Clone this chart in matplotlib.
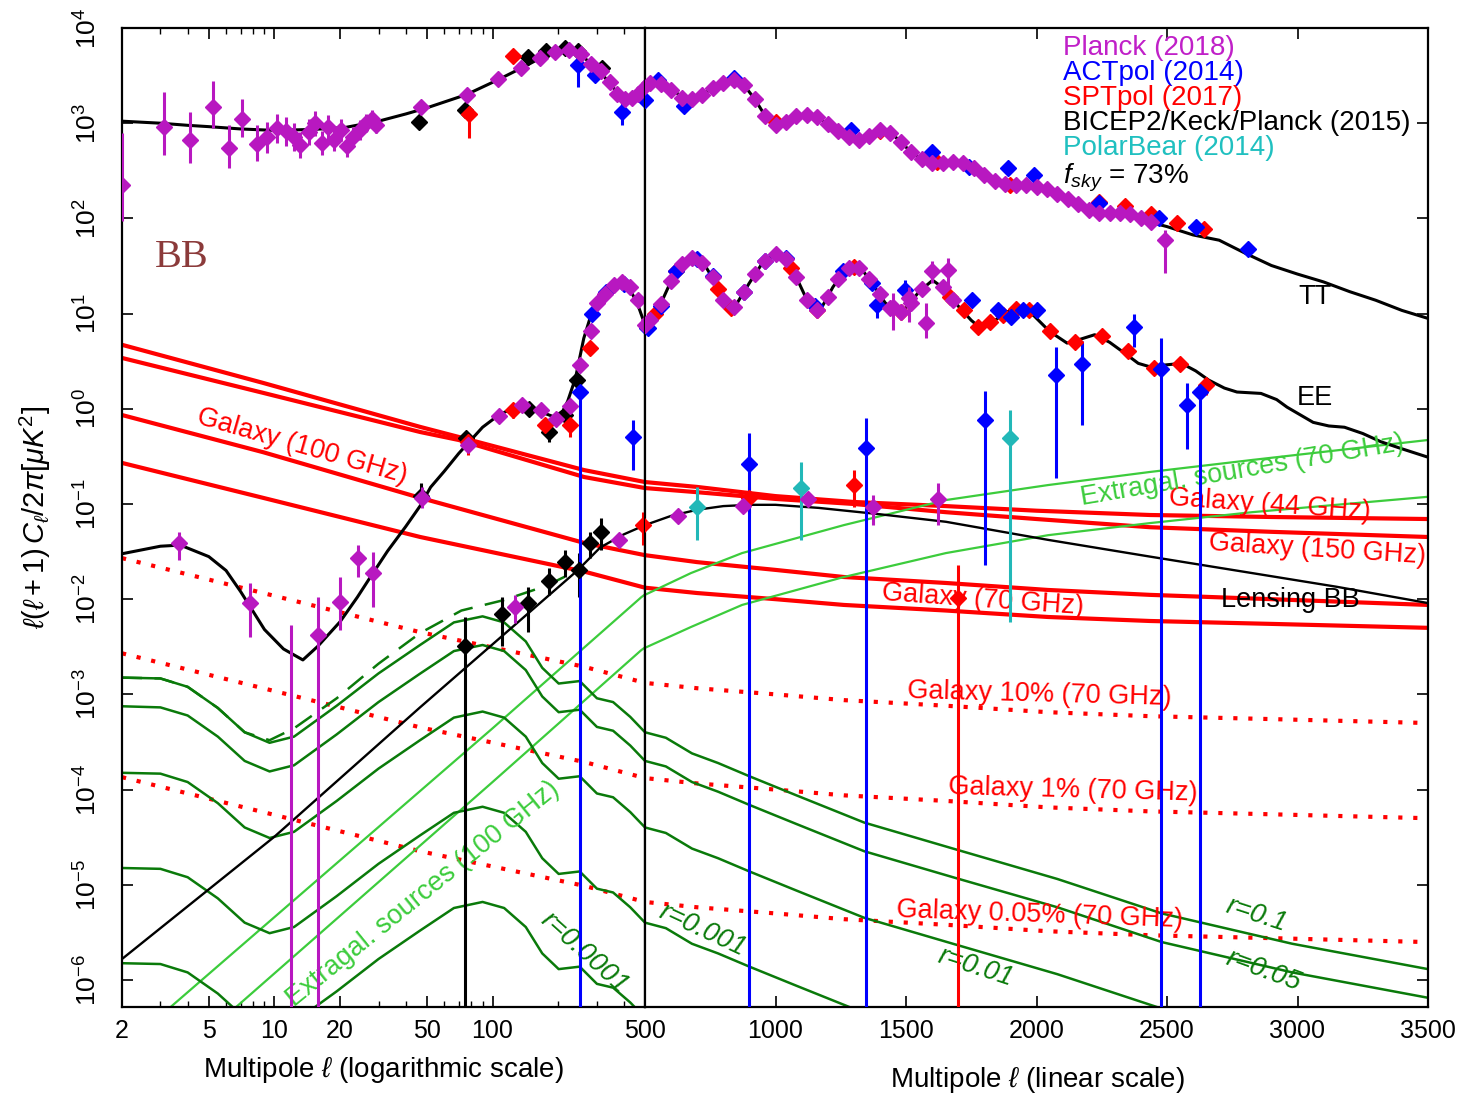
import numpy as np
import matplotlib
matplotlib.use("Agg")
import matplotlib.pyplot as plt
from matplotlib.ticker import FixedLocator, NullFormatter

plt.rcParams['font.family'] = ['Liberation Sans', 'DejaVu Sans']
plt.rcParams['mathtext.fontset'] = 'custom'
plt.rcParams['mathtext.rm'] = 'Liberation Sans'
plt.rcParams['mathtext.it'] = 'Liberation Sans:italic'
plt.rcParams['mathtext.bf'] = 'Liberation Sans:bold'

# ---------------- theory curves ----------------
tt_ell = [2, 3, 4, 5, 7, 10, 15, 21, 30, 40, 50, 76, 106, 141, 176, 200, 215, 235, 260, 290,
          314, 350, 392, 420, 450, 480, 500, 530, 560, 600, 665, 700, 750, 800, 845, 880, 920, 960,
          990, 1030, 1080, 1120, 1160, 1200, 1250, 1323, 1370, 1412, 1450, 1500, 1550, 1600, 1650,
          1700, 1750, 1800, 1850, 1900, 1950, 2000, 2050, 2100, 2150, 2200, 2250, 2300, 2350,
          2400, 2450, 2500, 2600, 2700, 2800, 2900, 3000, 3100, 3200, 3300, 3400, 3500]
tt_val = [1050, 1000, 950, 920, 870, 840, 860, 900, 1050, 1250, 1450, 2000, 2860, 3970, 5200, 5750,
          5850, 5700, 5000, 4000, 3400, 2500, 1850, 1800, 1950, 2200, 2450, 2700, 2650, 2250, 1750,
          1850, 2250, 2650, 2850, 2500, 1800, 1200, 955, 1020, 1180, 1220, 1150, 980, 790, 665, 760,
          850, 760, 560, 430, 380, 380, 395, 350, 286, 243, 224, 224, 214, 200, 170, 145, 123, 113,
          113, 113, 100, 89, 82, 67, 59, 43, 32, 26, 21.5, 17, 13.8, 10.8, 8.9]

ee_ell = [2, 3, 3.7, 5, 6, 7, 9, 11, 13.5, 15.8, 17.6, 20, 24, 27.5, 33, 40, 46.5, 52, 60, 70,
          90, 106, 120, 134, 150, 168, 192, 210, 221, 240, 262, 280, 300, 340, 380, 420, 460,
          500, 550, 600, 650, 692, 730, 770, 800, 822, 850, 900, 950, 1003, 1040, 1080, 1120,
          1148, 1180, 1220, 1260, 1299, 1340, 1380, 1420, 1465, 1500, 1550, 1602, 1650, 1700,
          1750, 1784, 1830, 1880, 1935, 1990, 2050, 2117, 2170, 2223, 2280, 2340, 2390, 2435,
          2500, 2556, 2610, 2660, 2720, 2768, 2860, 2920, 2960, 3060, 3120, 3180, 3250, 3320,
          3400, 3500]
ee_val = [0.030, 0.036, 0.037, 0.028, 0.020, 0.012, 0.0048, 0.003, 0.0023, 0.0032, 0.0042, 0.0058,
          0.0105, 0.017, 0.032, 0.058, 0.095, 0.15, 0.22, 0.34, 0.64, 0.85, 0.98, 1.08, 1.05,
          0.92, 0.82, 0.95, 1.2, 2.1, 5.5, 9, 14, 19.5, 21, 19, 13, 7.6, 11, 22, 35, 38, 32, 21,
          14, 11.5, 12.5, 21, 34, 43, 37, 24, 14, 10.5, 12, 19, 27, 31, 27, 19, 13, 10.1, 11.5,
          17, 22.4, 18, 12, 8.5, 7.1, 8, 10.3, 11.5, 9.5, 6.5, 4.9, 5.4, 6.0, 5.0, 3.8, 3.0,
          2.76, 2.9, 3.0, 2.5, 2.0, 1.65, 1.5, 1.45, 1.25, 1.04, 0.72, 0.66, 0.64, 0.55, 0.45,
          0.38, 0.31]

lens_ell = [2, 10, 46.5, 245, 312, 400, 500, 600, 700, 800, 900, 1000, 1165, 1400, 1653, 2044,
            2435, 2826, 3150, 3500]
lens_val = [1.66e-6, 3.2e-5, 7.3e-4, 0.02, 0.035, 0.048, 0.060, 0.075, 0.087, 0.095, 0.098, 0.098,
            0.091, 0.078, 0.065, 0.042, 0.028, 0.0188, 0.0135, 0.0091]

# primordial (tensor) BB for the five r values
tensor_ell = [2, 3, 4, 5.5, 7.3, 9.5, 12.3, 19.3, 30, 46.5, 66.5, 90, 113, 142, 169, 201, 251, 301,
              357, 428, 500, 580, 680, 780, 900, 1080, 1340, 1680, 2080, 2480, 2980, 3500]
bb_r01 = [1.5e-3, 1.47e-3, 1.2e-3, 7.2e-4, 4.0e-4, 3.1e-4, 3.6e-4, 7.6e-4, 1.66e-3, 3.3e-3, 5.7e-3,
          6.6e-3, 5.7e-3, 3.6e-3, 1.9e-3, 1.3e-3, 1.38e-3, 9.1e-4, 8.3e-4, 5.8e-4, 4.0e-4, 3.5e-4,
          2.4e-4, 1.9e-4, 1.38e-4, 8.7e-5, 4.5e-5, 2.4e-5, 1.15e-5, 5.0e-6, 2.4e-6, 1.3e-6]
bb_r005 = [7.5e-4, 7.3e-4, 6.0e-4, 3.6e-4, 2.0e-4, 1.55e-4, 1.8e-4, 3.8e-4, 8.3e-4, 1.65e-3, 2.85e-3,
           3.3e-3, 2.85e-3, 1.8e-3, 9.5e-4, 6.5e-4, 6.9e-4, 4.55e-4, 4.15e-4, 2.9e-4, 2.0e-4,
           1.75e-4, 1.2e-4, 9.5e-5, 6.9e-5, 4.35e-5, 2.25e-5, 1.2e-5, 5.8e-6, 2.5e-6, 1.2e-6, 6.5e-7]
bb_r001 = [1.5e-4, 1.47e-4, 1.2e-4, 7.2e-5, 4.0e-5, 3.1e-5, 3.6e-5, 7.6e-5, 1.66e-4, 3.3e-4, 5.7e-4,
           6.6e-4, 5.7e-4, 3.6e-4, 1.9e-4, 1.3e-4, 1.38e-4, 9.1e-5, 8.3e-5, 5.8e-5, 4.0e-5, 3.5e-5,
           2.4e-5, 1.9e-5, 1.38e-5, 8.7e-6, 4.5e-6, 2.4e-6, 1.15e-6, 5.0e-7, 2.4e-7, 1.3e-7]
bb_r0001 = [1.5e-5, 1.47e-5, 1.2e-5, 7.2e-6, 4.0e-6, 3.1e-6, 3.6e-6, 7.6e-6, 1.66e-5, 3.3e-5, 5.7e-5,
            6.6e-5, 5.7e-5, 3.6e-5, 1.9e-5, 1.3e-5, 1.38e-5, 9.1e-6, 8.3e-6, 5.8e-6, 4.0e-6, 3.5e-6,
            2.4e-6, 1.9e-6, 1.38e-6, 8.7e-7, 4.5e-7, 2.4e-7, 1.15e-7, 5.0e-8, 2.4e-8, 1.3e-8]
bb_r00001 = [1.5e-6, 1.47e-6, 1.2e-6, 7.2e-7, 4.0e-7, 3.1e-7, 3.6e-7, 7.6e-7, 1.66e-6, 3.3e-6,
             5.7e-6, 6.6e-6, 5.7e-6, 3.6e-6, 1.9e-6, 1.3e-6, 1.38e-6, 9.1e-7, 8.3e-7, 5.8e-7,
             4.0e-7, 3.5e-7, 2.4e-7, 1.9e-7, 1.38e-7, 8.7e-8, 4.5e-8, 2.4e-8, 1.15e-8, 5.0e-9,
             2.4e-9, 1.3e-9]
# dashed: lensing + r=0.1
total_ell = [2, 3, 4, 5.5, 7.3, 9.5, 12.3, 19.3, 30, 46.5, 72, 113, 176, 245]
total_val = [1.5e-3, 1.47e-3, 1.2e-3, 7.2e-4, 4.0e-4, 3.3e-4, 4.4e-4, 9.1e-4, 2.1e-3, 4.4e-3, 7.6e-3,
             9.8e-3, 0.0138, 0.02]

# foregrounds
gal_hi_ell = [2, 8.87, 46.6, 70, 263, 500, 700, 1000, 1300, 1653, 2000, 2435, 2900, 3500]
gal44_val = [4.7, 1.87, 0.645, 0.506, 0.227, 0.170, 0.151, 0.121, 0.105, 0.095, 0.085, 0.0766, 0.073, 0.0695]
gal150_val = [3.42, 1.47, 0.57, 0.47, 0.192, 0.147, 0.133, 0.113, 0.1, 0.082, 0.0695, 0.057, 0.051, 0.045]
gal_lo_ell = [2, 8.87, 46.6, 263, 500, 700, 1000, 1262, 1653, 2044, 2435, 2900, 3500]
gal100_val = [0.86, 0.35, 0.116, 0.039, 0.029, 0.0245, 0.0203, 0.0171, 0.0148, 0.0125, 0.0111, 0.010, 0.0087]
gal70_val = [0.27, 0.116, 0.045, 0.0195, 0.0132, 0.0116, 0.0100, 0.0087, 0.0076, 0.0065, 0.0059, 0.0055, 0.005]
gal70_10pc = [0.027, 0.0116, 0.0045, 0.00195, 0.00132, 0.00116, 0.0010, 0.00087, 0.00076, 0.00065,
              0.00059, 0.00055, 0.0005]
gal70_1pc = [0.0027, 0.00116, 0.00045, 0.000195, 0.000132, 0.000116, 0.0001, 8.7e-5, 7.6e-5, 6.5e-5,
             5.9e-5, 5.5e-5, 5e-5]
gal70_005pc = [1.35e-4, 5.8e-5, 2.25e-5, 9.75e-6, 6.6e-6, 5.8e-6, 5.0e-6, 4.35e-6, 3.8e-6, 3.25e-6,
               2.95e-6, 2.75e-6, 2.5e-6]
exg70_ell = [3, 100, 481, 676, 872, 1262, 1653, 2044, 2435, 2826, 3500]
exg70_val = [4.2e-7, 4.4e-4, 0.0105, 0.0188, 0.0305, 0.060, 0.110, 0.158, 0.217, 0.29, 0.47]
exg100_ell = [6, 100, 481, 676, 872, 1262, 1653, 2044, 2435, 2826, 3500]
exg100_val = [4.2e-7, 1.2e-4, 0.00292, 0.0051, 0.0087, 0.0171, 0.0305, 0.047, 0.063, 0.082, 0.119]

# ---------------- data points ----------------
# Planck 2018 (magenta)
pl_tt_low_ell = [2, 3.1, 4.1, 5.2, 6.2, 7.1, 8.3, 9.2, 10.3, 11.3, 12.3, 13.1, 14.4, 15.4, 16.5, 17.6,
                 18.8, 20.1, 21.5, 23, 24.6, 26.3, 28, 29.3, 2492]
pl_tt_low_val = [225, 920, 670, 1475, 550, 1120, 610, 710, 890, 820, 720, 590, 810, 1000, 615, 920,
                 670, 850, 570, 720, 850, 1000, 1120, 960, 59]
pl_tt_low_lo = [95, 465, 380, 890, 340, 720, 400, 490, 620, 580, 510, 430, 590, 740, 460, 690, 510,
                650, 440, 560, 670, 800, 900, 780, 27]
pl_tt_low_hi = [785, 2150, 1320, 2750, 950, 1800, 950, 1020, 1250, 1150, 1000, 800, 1100, 1330, 820,
                1220, 870, 1100, 730, 920, 1070, 1250, 1380, 1170, 75]
pl_tt_ell = [47, 76, 106, 135, 165, 194, 224, 254, 284, 314, 344, 374, 404, 434, 464, 494, 520, 560,
             600, 640, 680, 720, 760, 800, 840, 880, 920, 960, 1000, 1040, 1080, 1120, 1160, 1200,
             1240, 1280, 1320, 1360, 1400, 1440, 1480, 1520, 1560, 1600, 1640, 1680, 1720, 1760,
             1800, 1840, 1880, 1920, 1960, 2000, 2040, 2080, 2120, 2160, 2200, 2240, 2280, 2320,
             2360, 2400, 2440]
pl_tt_val = [1475, 2000, 2900, 3800, 4800, 5600, 5900, 5300, 4200, 3500, 2700, 2050, 1800, 1850, 2050,
             2350, 2650, 2600, 2250, 1850, 1780, 2000, 2350, 2650, 2850, 2500, 1800, 1200, 960, 1040,
             1180, 1220, 1150, 980, 820, 720, 665, 740, 840, 790, 640, 500, 420, 380, 380, 390, 385,
             340, 286, 250, 230, 224, 222, 214, 203, 182, 160, 140, 123, 115, 113, 113, 112, 100, 91]
pl_ee_low_ell = [3.65, 7.73, 11.9, 15.8, 20, 24.1, 28.3, 47.5, 1450, 1511, 1575, 1600, 1660]
pl_ee_low_val = [0.039, 0.0091, 1e-8, 0.0042, 0.0093, 0.027, 0.019, 0.116, 11.8, 14.5, 7.9, 28, 29]
pl_ee_low_lo = [0.026, 0.004, 1e-9, 1e-9, 0.0048, 0.017, 0.0083, 0.09, 6.8, 8.1, 5.5, 21, 20]
pl_ee_low_hi = [0.051, 0.0148, 0.0054, 0.0105, 0.017, 0.037, 0.031, 0.15, 16.6, 19, 13, 36, 38]
pl_ee_ell = [77.5, 107, 136, 167, 196, 226, 253, 282, 301, 328, 362, 392, 425, 462, 500, 520, 560,
             600, 640, 680, 720, 760, 800, 840, 880, 920, 960, 1000, 1040, 1080, 1120, 1160, 1200,
             1240, 1280, 1320, 1360, 1400, 1440, 1480, 1520, 1560, 1640, 1680]
pl_ee_val = [0.42, 0.84, 1.1, 0.97, 0.78, 1.07, 2.9, 6.5, 13, 16, 20, 21.5, 19, 13.8, 7.5, 8.5, 12.5,
             22, 33, 38, 34, 24, 14, 11.8, 17, 26, 36, 42, 37, 24, 14, 10.8, 15, 23, 30, 30, 23, 16,
             11.5, 10.5, 13, 18, 19, 14]
pl_bb_ell = [127, 378, 625, 875, 1124, 1374, 1624]
pl_bb_val = [0.0083, 0.042, 0.075, 0.095, 0.112, 0.093, 0.112]
pl_bb_lo = [0.0056, 0.042, 0.075, 0.095, 0.112, 0.06, 0.06]
pl_bb_hi = [0.011, 0.042, 0.075, 0.095, 0.112, 0.124, 0.166]

# ACTpol 2014 (blue)
act_ell = [246, 296, 392, 500, 550, 650, 840, 1290, 1600, 1740, 1890, 1990, 2240, 2470, 2610, 2810,
           287, 330, 400, 510, 560, 620, 700, 760, 880, 960, 1040, 1150, 1260, 1370, 1389, 1496,
           1753, 1852, 1902, 1950, 2002]
act_val = [4070, 3200, 1320, 1760, 2860, 1500, 2950, 850, 500, 346, 336, 286, 145, 100, 82, 48,
           10, 17, 20.5, 7, 12, 28, 37, 25, 17, 36, 38, 12, 28, 21, 12.4, 17.8, 14, 11, 9.1, 11, 11]
act_lo = [2400, 3200, 955, 1760, 2860, 1500, 2950, 850, 500, 346, 336, 286, 145, 100, 82, 48,
          10, 17, 20.5, 7, 12, 28, 37, 25, 17, 36, 38, 12, 28, 21, 8.9, 12.8, 14, 11, 9.1, 11, 11]
act_hi = [4100, 3200, 1740, 1760, 2860, 1500, 2950, 850, 500, 346, 336, 286, 145, 100, 82, 48,
          10, 17, 20.5, 7, 12, 28, 37, 25, 17, 36, 38, 12, 28, 21, 17.8, 22.4, 14, 11, 9.1, 11, 11]
act_wide_ell = [253, 441, 898, 1347, 1803, 2075, 2174, 2374, 2477, 2577, 2625]
act_wide_val = [1.5, 0.506, 0.263, 0.39, 0.76, 2.26, 2.95, 7.2, 2.6, 1.1, 1.5]
act_wide_lo = [1e-9, 0.227, 1e-9, 1e-9, 0.023, 0.187, 0.68, 4.45, 1e-9, 0.38, 1e-9]
act_wide_hi = [1.7, 0.76, 0.557, 0.8, 1.54, 4.45, 5.2, 10, 5.5, 1.86, 1.75]

# SPTpol 2017 (red)
spt_ell = [78, 124, 1000, 1400, 1620, 1900, 2240, 2340, 2440, 2540, 2640,
           77, 124, 174, 226, 280, 540, 620, 780, 830, 1060, 1160, 1300, 1480, 1669, 1722, 1776,
           1822, 1871, 1922, 1973, 2052, 2148, 2251, 2351, 2451, 2551, 2650,
           491, 898, 1299, 1699]
spt_val = [1250, 5080, 1040, 830, 390, 225, 150, 134, 110, 89, 78,
           0.45, 0.97, 0.68, 0.68, 4.4, 10, 28, 18, 11.5, 30, 11, 31, 10.5, 15, 11, 7.2,
           8.1, 9.7, 11.2, 11, 6.6, 5.0, 5.8, 4.0, 2.7, 2.95, 1.78,
           0.060, 0.115, 0.158, 0.0102]
spt_lo = [700, 5080, 1040, 830, 390, 225, 150, 134, 110, 89, 78,
          0.33, 0.8, 0.6, 0.5, 4.4, 10, 28, 18, 11.5, 30, 11, 31, 10.5, 15, 11, 7.2,
          8.1, 9.7, 11.2, 11, 6.6, 5.0, 5.8, 4.0, 2.7, 2.95, 1.4,
          0.037, 0.08, 0.093, 1e-9]
spt_hi = [1500, 5080, 1040, 830, 390, 225, 150, 134, 110, 89, 78,
          0.5, 1.15, 0.78, 0.78, 4.4, 10, 28, 18, 11.5, 30, 11, 31, 10.5, 15, 11, 7.2,
          8.1, 9.7, 11.2, 11, 6.6, 5.0, 5.8, 4.0, 2.7, 2.95, 2.1,
          0.083, 0.15, 0.23, 0.023]

# BICEP2/Keck/Planck 2015 (black)
bk_ell = [46, 75, 145, 176, 215, 247, 316,
          47, 75.5, 147, 182, 214, 245,
          75, 110, 145, 181, 215, 250, 280, 314]
bk_val = [1040, 1370, 5000, 5700, 6200, 5800, 3800,
          0.12, 0.49, 1.0, 0.57, 0.86, 2.0,
          0.0032, 0.00695, 0.0091, 0.0155, 0.0245, 0.0203, 0.039, 0.0508]
bk_lo = [1040, 1370, 5000, 5700, 6200, 5800, 3800,
         0.1, 0.38, 1.0, 0.45, 0.86, 2.0,
         1e-9, 0.0032, 0.0045, 0.011, 0.0171, 0.0105, 0.027, 0.033]
bk_hi = [1040, 1370, 5000, 5700, 6200, 5800, 3800,
         0.166, 0.56, 1.0, 0.66, 0.86, 2.0,
         0.0065, 0.0105, 0.0135, 0.0213, 0.033, 0.0305, 0.0508, 0.071]

# PolarBear 2014 (cyan)
pb_ell = [699, 1098, 1898]
pb_val = [0.093, 0.148, 0.49]
pb_lo = [0.042, 0.042, 0.0057]
pb_hi = [0.151, 0.276, 0.97]

legend_names = ['Planck (2018)', 'ACTpol (2014)', 'SPTpol (2017)', 'BICEP2/Keck/Planck (2015)',
                'PolarBear (2014)', r'$f_{sky}$ = 73%']
legend_colors = ['#c020c8', 'blue', 'red', 'black', '#20c0c0', 'black']

MAG, CYAN = '#b818c0', '#22b8b8'
DKGREEN, LTGREEN = '#0a7a0a', '#3ccc3c'
MS = 8.5

W, H = 1463, 1097
fig = plt.figure(figsize=(W / 100, H / 100), dpi=100)
ax_log = fig.add_axes([122 / W, 90 / H, 523 / W, 979 / H])
ax_lin = fig.add_axes([645 / W, 90 / H, 783 / W, 979 / H])


def points(ax, ell, val, lo, hi, color, z):
    ell, val = np.asarray(ell, float), np.asarray(val, float)
    lo, hi = np.asarray(lo, float), np.asarray(hi, float)
    ax.errorbar(ell, val, yerr=[val - lo, hi - val], fmt='D', color=color, ms=MS, mec=color,
                elinewidth=2.2, capsize=0, zorder=z)


def draw_everything(ax):
    for v in (gal44_val, gal150_val):
        ax.plot(gal_hi_ell, v, color='red', lw=3, zorder=2)
    for v in (gal100_val, gal70_val):
        ax.plot(gal_lo_ell, v, color='red', lw=3, zorder=2)
    for v in (gal70_10pc, gal70_1pc, gal70_005pc):
        ax.plot(gal_lo_ell, v, color='red', lw=3, dashes=(1, 2.6), zorder=2)
    ax.plot(exg70_ell, exg70_val, color=LTGREEN, lw=1.6, zorder=2)
    ax.plot(exg100_ell, exg100_val, color=LTGREEN, lw=1.6, zorder=2)
    for v in (bb_r01, bb_r005, bb_r001, bb_r0001, bb_r00001):
        ax.plot(tensor_ell, v, color=DKGREEN, lw=1.8, zorder=2)
    ax.plot(total_ell, total_val, color=DKGREEN, lw=1.8, dashes=(8, 5), zorder=2)
    ax.plot(tt_ell, tt_val, color='black', lw=2.2, zorder=3)
    ax.plot(ee_ell, ee_val, color='black', lw=2.2, zorder=3)
    ax.plot(lens_ell, lens_val, color='black', lw=1.7, zorder=3)

    points(ax, bk_ell, bk_val, bk_lo, bk_hi, 'black', 4)
    points(ax, spt_ell, spt_val, spt_lo, spt_hi, 'red', 4)
    points(ax, act_ell, act_val, act_lo, act_hi, 'blue', 4)
    points(ax, act_wide_ell, act_wide_val, act_wide_lo, act_wide_hi, 'blue', 4)
    points(ax, pb_ell, pb_val, pb_lo, pb_hi, CYAN, 4)
    points(ax, pl_tt_low_ell, pl_tt_low_val, pl_tt_low_lo, pl_tt_low_hi, MAG, 5)
    points(ax, pl_ee_low_ell, pl_ee_low_val, pl_ee_low_lo, pl_ee_low_hi, MAG, 5)
    points(ax, pl_bb_ell, pl_bb_val, pl_bb_lo, pl_bb_hi, MAG, 5)
    ax.plot(pl_tt_ell, pl_tt_val, 'D', color=MAG, ms=MS, zorder=5)
    ax.plot(pl_ee_ell, pl_ee_val, 'D', color=MAG, ms=MS, zorder=5)


for ax in (ax_log, ax_lin):
    draw_everything(ax)
    ax.set_yscale('log')
    ax.set_ylim(5.2e-7, 1e4)
    for s in ax.spines.values():
        s.set_linewidth(1.6)

ax_log.set_xscale('log')
ax_log.set_xlim(2, 500)
ax_log.xaxis.set_major_locator(FixedLocator([2, 5, 10, 20, 50, 100, 500]))
ax_log.set_xticklabels(['2', '5', '10', '20', '50', '100', '500'])
ax_log.xaxis.set_minor_locator(FixedLocator([3, 4, 6, 7, 8, 9, 30, 40, 60, 70, 80, 90, 200, 300, 400]))
ax_log.xaxis.set_minor_formatter(NullFormatter())
ax_log.set_yticks(10.0 ** np.arange(-6, 5))
ax_log.set_yticklabels([r'$10^{%d}$' % k for k in range(-6, 5)])
ax_log.tick_params(axis='y', which='major', labelsize=19, pad=15, labelrotation=90)
for lab in ax_log.get_yticklabels():
    lab.set_va('center')
ax_log.tick_params(which='both', direction='in', top=True, right=False)
ax_log.tick_params(axis='x', which='major', labelsize=18, pad=9)
ax_log.tick_params(which='major', length=8, width=1.2)
ax_log.tick_params(which='minor', length=4, width=1)

ax_lin.set_xlim(500, 3500)
ax_lin.set_xticks([1000, 1500, 2000, 2500, 3000, 3500])
ax_lin.yaxis.tick_right()
ax_lin.tick_params(which='both', direction='in', top=True, left=False, right=True,
                   labelleft=False, labelright=False)
ax_lin.tick_params(axis='x', which='major', labelsize=18, pad=9)
ax_lin.tick_params(which='major', length=8, width=1.2)
ax_lin.tick_params(which='minor', length=4, width=1)
ax_lin.set_yticks(10.0 ** np.arange(-6, 5))

# axis titles
fig.text(383 / W, 1 - 1070 / H, r'Multipole $\ell$ (logarithmic scale)', ha='center', va='center', fontsize=20)
fig.text(1037 / W, 1 - 1080 / H, r'Multipole $\ell$ (linear scale)', ha='center', va='center', fontsize=20)
fig.text(35 / W, 1 - 517 / H, r'$\ell(\ell+1)\,C_\ell/2\pi[\mu K^2]$', rotation=90,
         ha='center', va='center', fontsize=21)

# legend-like colored text block
legend_y = [48, 73, 98, 123, 148, 178]
for name, col, py in zip(legend_names, legend_colors, legend_y):
    fig.text(1063 / W, 1 - py / H, name, color=col, fontsize=20, ha='left', va='center')

kw = dict(ha='center', va='center', rotation_mode='anchor', fontsize=19.5)
ax_log.text(2.83, 38.4, 'BB', color='#8b3a3a', fontsize=29, family='Liberation Serif', ha='left', va='center')
ax_log.text(13.4, 0.40, 'Galaxy (100 GHz)', color='red', rotation=-16, **kw)
ax_log.text(48.1, 8.0e-6, 'Extragal. sources (100 GHz)', color=LTGREEN, rotation=39, **kw)
ax_log.text(263, 1.92e-6, 'r=0.0001', color=DKGREEN, rotation=-42, style='italic', **kw)

ax_lin.text(3067, 14.9, 'TT', color='black', **kw)
ax_lin.text(3067, 1.3, 'EE', color='black', **kw)
ax_lin.text(2971, 0.0098, 'Lensing BB', color='black', **kw)
ax_lin.text(2895, 0.098, 'Galaxy (44 GHz)', color='red', rotation=-4, **kw)
ax_lin.text(3075, 0.0329, 'Galaxy (150 GHz)', color='red', rotation=-3.5, **kw)
ax_lin.text(1795, 0.0098, 'Galaxy (70 GHz)', color='red', rotation=-4, **kw)
ax_lin.text(2787, 0.227, 'Extragal. sources (70 GHz)', color=LTGREEN, rotation=9.7, **kw)
ax_lin.text(2013, 9.9e-4, 'Galaxy 10% (70 GHz)', color='red', rotation=-1.5, **kw)
ax_lin.text(2140, 9.8e-5, 'Galaxy 1% (70 GHz)', color='red', rotation=-1.5, **kw)
ax_lin.text(2013, 4.8e-6, 'Galaxy 0.05% (70 GHz)', color='red', rotation=-2, **kw)
ax_lin.text(2841, 4.8e-6, 'r=0.1', color=DKGREEN, rotation=-18, style='italic', **kw)
ax_lin.text(2868, 1.24e-6, 'r=0.05', color=DKGREEN, rotation=-20, style='italic', **kw)
ax_lin.text(1768, 1.37e-6, 'r=0.01', color=DKGREEN, rotation=-18, style='italic', **kw)
ax_lin.text(722, 3.3e-6, 'r=0.001', color=DKGREEN, rotation=-25, style='italic', **kw)

fig.savefig('out.png', dpi=100)
